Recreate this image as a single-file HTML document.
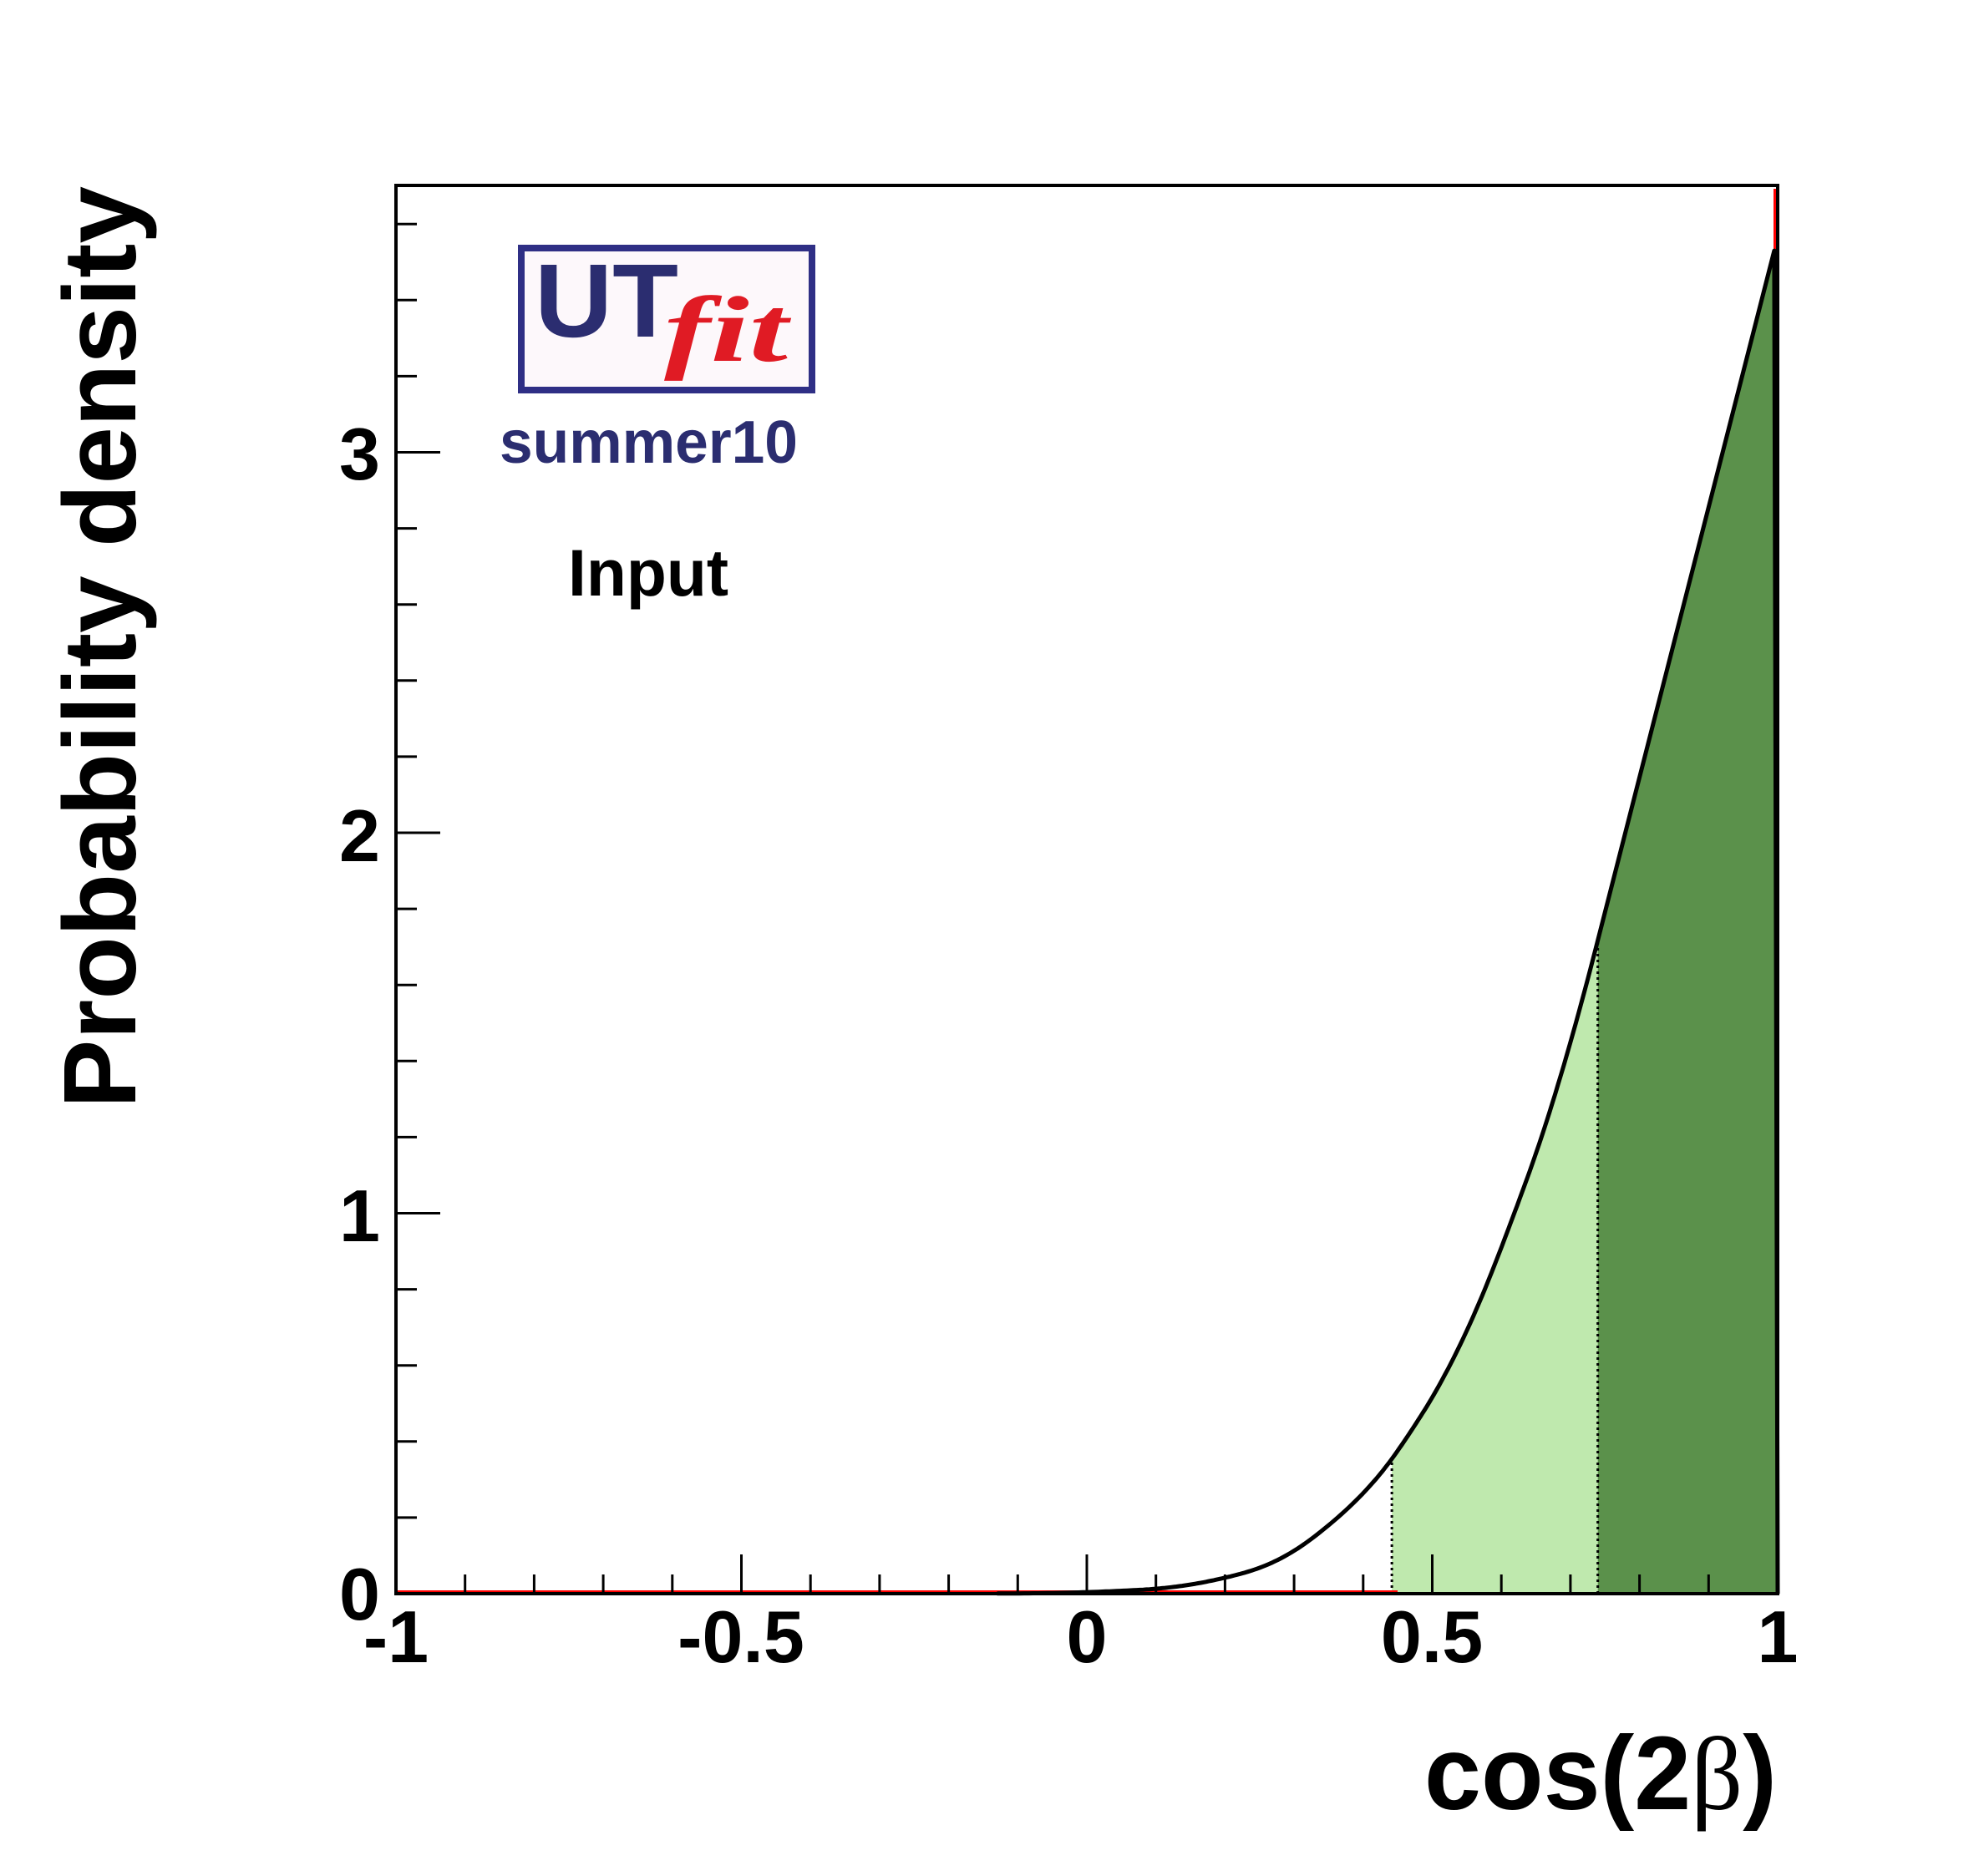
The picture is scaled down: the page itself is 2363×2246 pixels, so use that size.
<!DOCTYPE html>
<html><head><meta charset="utf-8"><style>
html,body{margin:0;padding:0;background:#fff;}
svg{display:block;font-family:"Liberation Sans",sans-serif;font-weight:bold;}
</style></head><body>
<svg id="s" width="2363" height="2246" viewBox="0 0 2363 2246" xmlns="http://www.w3.org/2000/svg">
<rect width="2363" height="2246" fill="#fff"/>
<path id="light" fill="#bfe9ae" d=""/>
<path id="dark" fill="#5b914b" d=""/>
<line id="d1" stroke="#000" stroke-width="3" stroke-dasharray="3,4"/>
<line id="d2" stroke="#000" stroke-width="3" stroke-dasharray="3,4"/>
<line x1="474" y1="1906" x2="1673" y2="1906" stroke="#f00" stroke-width="4"/>
<line x1="2125" y1="226" x2="2125" y2="700" stroke="#f00" stroke-width="4"/>
<path id="curve" fill="none" stroke="#000" stroke-width="5" stroke-linejoin="round" d=""/>
<g id="ticks" stroke="#000" stroke-width="3"></g>
<rect x="474" y="222" width="1654" height="1686" fill="none" stroke="#000" stroke-width="4"/>
<g font-size="88" text-anchor="end">
<text x="455" y="1939">0</text>
<text x="455" y="1486">1</text>
<text x="455" y="1031">2</text>
<text x="455" y="574">3</text>
</g>
<g font-size="88" text-anchor="middle">
<text x="474" y="1990">-1</text>
<text x="887" y="1990">-0.5</text>
<text x="1301" y="1990">0</text>
<text x="1714" y="1990">0.5</text>
<text x="2128" y="1990">1</text>
</g>
<text x="2127" y="2166" font-size="125" text-anchor="end" textLength="422" lengthAdjust="spacingAndGlyphs">cos(2<tspan font-family="Liberation Serif,serif" font-weight="normal">β</tspan>)</text>
<text transform="translate(162,1327) rotate(-90)" font-size="123" textLength="1104" lengthAdjust="spacingAndGlyphs">Probability density</text>
<rect x="624" y="297" width="348" height="170" fill="#fdf8fb" stroke="#2f2f85" stroke-width="8"/>
<text x="640" y="403" font-size="125" fill="#2b2d70" textLength="172" lengthAdjust="spacingAndGlyphs">UT</text>
<text x="795" y="432" font-size="112" fill="#e01b24" font-family="Liberation Serif,serif" font-style="italic" textLength="148" lengthAdjust="spacingAndGlyphs">fit</text>
<text x="598" y="554" font-size="72" fill="#2b2d70" textLength="357" lengthAdjust="spacingAndGlyphs">summer10</text>
<text x="680" y="713" font-size="79" fill="#000" textLength="192" lengthAdjust="spacingAndGlyphs">Input</text>
</svg>
<script>
var X=function(c){return 474+(c+1)*827;},Y=function(v){return 1908-v*455.5;};
var P=[[-0.25,0.00005],[-0.13,0.0004],[0,0.004],[0.1,0.013],[0.18,0.034],[0.25,0.068],[0.344,0.171],[0.441,0.353],[0.506,0.535],[0.593,0.877],[0.658,1.2],[0.74,1.72],[0.8,2.15]];
var L=P.map(function(p){return [p[0],Math.log(p[1])];});
var pts=[];
for(var i=0;i<L.length-1;i++){
 var p0=L[Math.max(i-1,0)],p1=L[i],p2=L[i+1],p3=L[Math.min(i+2,L.length-1)];
 for(var k=0;k<20;k++){var t=k/20,t2=t*t,t3=t2*t;
  var f=function(a,b,c,d){return 0.5*((2*b)+(-a+c)*t+(2*a-5*b+4*c-d)*t2+(-a+3*b-3*c+d)*t3);};
  var c=f(p0[0],p1[0],p2[0],p3[0]);
  if(c>0.74)break;
  pts.push([c,Math.exp(f(p0[1],p1[1],p2[1],p3[1]))]);}
}
pts.push([0.74,1.72]);
pts.push([0.995,3.53]);
pts=pts.filter(function(p){return p[0]>=-0.13;});
function val(c){for(var i=0;i<pts.length-1;i++){if(pts[i+1][0]>=c){var a=pts[i],b=pts[i+1];return a[1]+(b[1]-a[1])*(c-a[0])/(b[0]-a[0]);}}return 3.53;}
var d="M"+pts.map(function(p){return X(p[0]).toFixed(1)+","+Y(p[1]).toFixed(1);}).join(" L")+" L"+X(1)+","+Y(0);
document.getElementById('curve').setAttribute('d',d);
function area(c0,c1){var s="M"+X(c0)+","+Y(0)+" L"+X(c0)+","+Y(val(c0));
 pts.forEach(function(p){if(p[0]>c0&&p[0]<c1)s+=" L"+X(p[0]).toFixed(1)+","+Y(p[1]).toFixed(1);});
 if(c1>=1){s+=" L"+X(1)+","+Y(0);}else s+=" L"+X(c1)+","+Y(val(c1))+" L"+X(c1)+","+Y(0);
 return s+"Z";}
document.getElementById('light').setAttribute('d',area(0.4415,0.7396));
document.getElementById('dark').setAttribute('d',area(0.7396,1));
[['d1',0.4415],['d2',0.7396]].forEach(function(a){var e=document.getElementById(a[0]);
 e.setAttribute('x1',X(a[1]));e.setAttribute('x2',X(a[1]));e.setAttribute('y1',Y(0));e.setAttribute('y2',Y(val(a[1])));});
var g=document.getElementById('ticks'),h="";
for(var i=0;i<=20;i++){var c=-1+i*0.1,x=X(c),Ln=(i%5==0)?47:23;h+='<line x1="'+x+'" y1="1908" x2="'+x+'" y2="'+(1908-Ln)+'"/>';}
for(var i=0;i<=18;i++){var v=i*0.2,y=Y(v),Ln=(i%5==0)?53:25;h+='<line x1="474" y1="'+y+'" x2="'+(474+Ln)+'" y2="'+y+'"/>';}
g.innerHTML=h;
</script>
</body></html>
